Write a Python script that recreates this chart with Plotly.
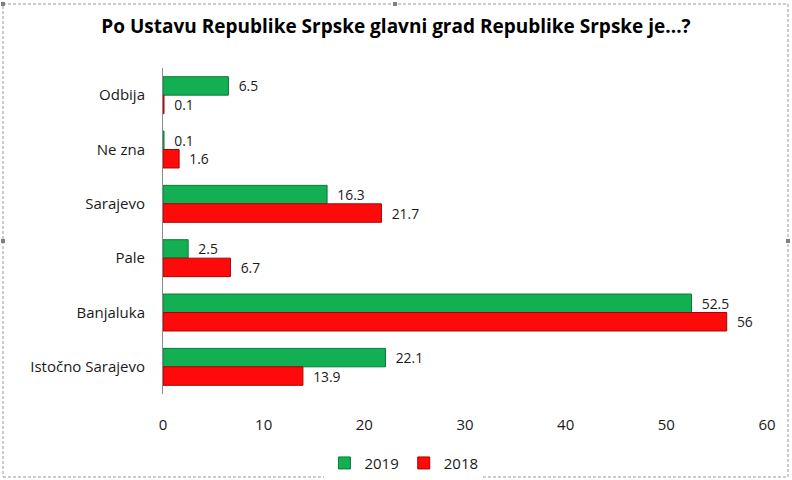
import plotly.graph_objects as go

categories = ["Odbija", "Ne zna", "Sarajevo", "Pale", "Banjaluka", "Istočno Sarajevo"]
values_2019 = [6.5, 0.1, 16.3, 2.5, 52.5, 22.1]
values_2018 = [0.1, 1.6, 21.7, 6.7, 56, 13.9]
x_ticks = [0, 10, 20, 30, 40, 50, 60]

font_family = "Open Sans, DejaVu Sans, sans-serif"

fig = go.Figure()
fig.add_trace(go.Bar(
    y=categories, x=values_2019, orientation="h", name="2019",
    marker=dict(color="#12B052", line=dict(color="#0A7A3A", width=1)),
    texttemplate="  %{x}", textposition="outside", cliponaxis=False,
    textfont=dict(size=15, color="#1a1a1a", family=font_family),
))
fig.add_trace(go.Bar(
    y=categories, x=values_2018, orientation="h", name="2018",
    marker=dict(color="#FF0A0A", line=dict(color="#B00000", width=1)),
    texttemplate="  %{x}", textposition="outside", cliponaxis=False,
    textfont=dict(size=15, color="#1a1a1a", family=font_family),
))

fig.update_layout(
    width=792, height=480,
    margin=dict(l=163, r=25, t=68, b=86),
    paper_bgcolor="white", plot_bgcolor="white",
    barmode="group", bargap=0.32, bargroupgap=0,
    font=dict(family=font_family, size=15, color="#1a1a1a"),
    title=dict(text="<b>Po Ustavu Republike Srpske glavni grad Republike Srpske je...?</b>",
               x=0.5, xref="container", xanchor="center", y=0.945, yanchor="middle",
               font=dict(size=19, family=font_family, color="black")),
    legend=dict(orientation="h", x=0.51, xanchor="center", xref="container",
                y=0.035, yanchor="middle", yref="container",
                font=dict(size=15), itemwidth=30, traceorder="normal"),
    showlegend=True,
)
fig.update_xaxes(range=[0, 60], tickvals=x_ticks, showgrid=False, zeroline=False,
                 showline=False, ticks="", ticklabelstandoff=20,
                 tickfont=dict(size=15))
fig.update_yaxes(autorange="reversed", showgrid=False, showline=True,
                 linecolor="#8c8c8c", linewidth=1, ticks="", ticklabelstandoff=14,
                 tickfont=dict(size=15))

# dashed chart border (pixel -> paper coords helpers)
def px(x):
    return (x - 163) / 604

def py(y):
    return (480 - 86 - y) / 326

fig.add_shape(type="rect", xref="paper", yref="paper",
              x0=px(3), x1=px(788), y0=py(477), y1=py(4),
              line=dict(color="#9a9a9a", width=1, dash="3px,2px"))

# selection handles on the border
for hx, hy in [(3, 4), (395, 4), (3, 241), (788, 241), (398, 477)]:
    fig.add_shape(type="rect", xref="paper", yref="paper",
                  x0=px(hx - 2), x1=px(hx + 2), y0=py(hy + 2), y1=py(hy - 2),
                  fillcolor="#808080", line=dict(width=0))

fig.write_html("out.html")
